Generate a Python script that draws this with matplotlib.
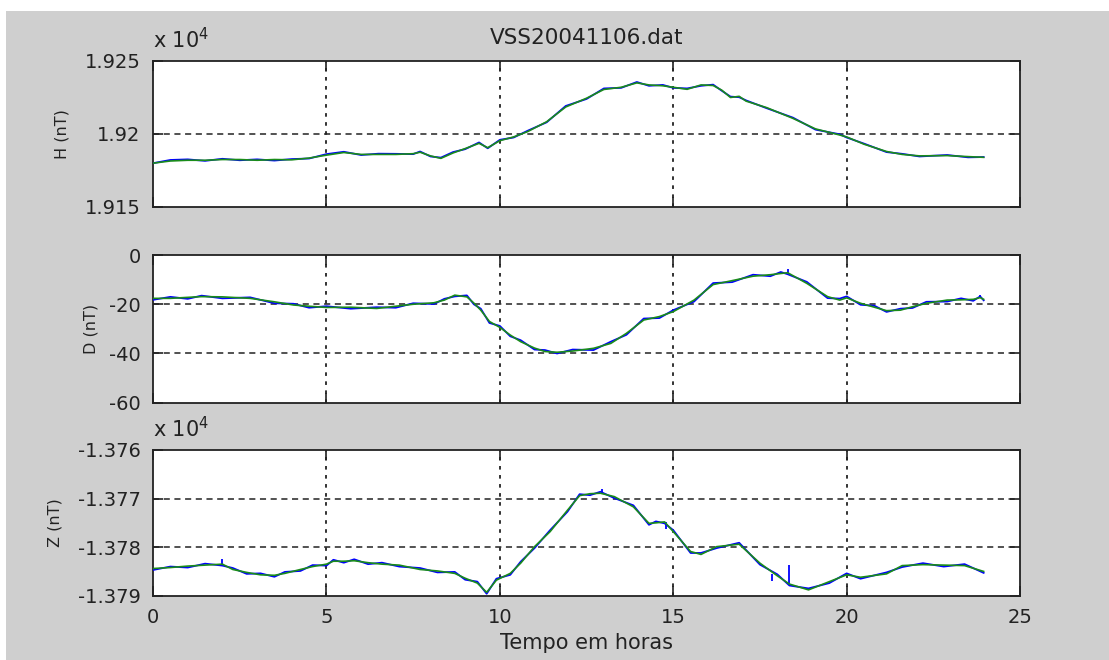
import matplotlib.pyplot as plt
from matplotlib.patches import Rectangle

# H component (nT)
h_t = [0, 0.5, 1.0, 1.5, 2.0, 2.5, 3.0, 3.5, 4.0, 4.5,
       5.0, 5.5, 6.0, 6.5, 7.0, 7.5, 7.7, 8.0, 8.3, 8.65,
       9.0, 9.4, 9.65, 10.0, 10.4, 10.8, 11.35, 11.9, 12.5, 13.0,
       13.5, 13.95, 14.3, 14.7, 15.0, 15.4, 15.8, 16.15, 16.4, 16.65,
       16.9, 17.1, 17.7, 18.45, 19.1, 19.8, 20.0, 20.5, 21.15, 21.6,
       22.1, 22.9, 23.5, 23.95]
h_filt = [19180, 19181.5, 19182, 19182, 19182.5, 19182.5, 19182, 19182.5, 19182.3, 19183.5,
          19185.5, 19187.3, 19186, 19186, 19186, 19186.5, 19187.5, 19185, 19183.3, 19187,
          19190, 19193.6, 19190.6, 19195.4, 19198, 19201.6, 19208.4, 19218.5, 19224.5, 19230.5,
          19232, 19235, 19233.6, 19233, 19232, 19230.6, 19233.6, 19233.2, 19230, 19225,
          19225.8, 19222.5, 19218, 19210.7, 19203.5, 19199.3, 19198, 19193, 19188, 19186,
          19185, 19185.2, 19184.5, 19184]
h_raw = [19180, 19182.2, 19182.6, 19181.6, 19183.0, 19182.0, 19182.6, 19181.8, 19182.8, 19183.2,
         19186.2, 19187.8, 19185.6, 19186.5, 19186.4, 19186.2, 19188.0, 19184.6, 19183.8, 19187.6,
         19189.6, 19194.2, 19190.2, 19196.0, 19197.6, 19202.2, 19208.0, 19219.2, 19224.0, 19231.2,
         19231.6, 19235.6, 19233.0, 19233.6, 19231.6, 19231.2, 19233.0, 19233.8, 19229.6, 19225.6,
         19225.2, 19223.0, 19217.6, 19211.2, 19203.0, 19199.8, 19197.6, 19193.4, 19187.6, 19186.4,
         19184.6, 19185.6, 19184.0, 19184.2]

# D component (nT)
d_t = [0, 0.5, 1.0, 1.4, 2.0, 2.8, 3.5, 4.05, 4.5, 5.0,
       5.7, 6.45, 7.0, 7.5, 8.1, 8.4, 8.7, 9.05, 9.25, 9.45,
       9.7, 10.0, 10.3, 10.6, 11.0, 11.3, 11.65, 12.1, 12.7, 13.2,
       13.65, 14.15, 14.6, 15.0, 15.6, 16.15, 16.7, 17.3, 17.8, 18.1,
       18.3, 18.85, 19.45, 19.8, 20.0, 20.4, 20.8, 21.15, 21.55, 21.9,
       22.3, 22.9, 23.3, 23.65, 23.85, 23.95]
d_filt = [-17.6, -17.6, -17.2, -16.9, -17.0, -17.6, -19.0, -20.3, -20.8, -21.3,
          -21.2, -21.7, -20.8, -20.0, -19.4, -18.3, -16.3, -17.0, -19.5, -22.4,
          -27.0, -29.4, -32.5, -35.2, -37.8, -39.2, -39.5, -39.0, -37.9, -35.9,
          -31.8, -26.4, -25.0, -23.0, -18.3, -12.0, -10.4, -8.6, -8.0, -7.5,
          -7.2, -11.5, -16.9, -18.3, -17.4, -19.6, -21.2, -22.6, -22.4, -21.0,
          -19.6, -18.3, -18.2, -18.0, -17.3, -18.0]
d_raw = [-18.2, -17.0, -17.8, -16.5, -17.6, -17.2, -19.6, -19.8, -21.4, -20.8,
         -21.8, -21.2, -21.4, -19.6, -19.9, -17.8, -16.8, -16.4, -20.0, -21.8,
         -27.6, -28.8, -33.0, -34.6, -38.4, -38.6, -40.0, -38.4, -38.6, -35.2,
         -32.4, -25.8, -25.6, -22.4, -18.9, -11.4, -11.0, -8.0, -8.6, -6.9,
         -7.8, -10.9, -17.5, -17.7, -16.8, -20.2, -20.6, -23.1, -21.8, -21.5,
         -19.0, -18.9, -17.6, -18.6, -16.8, -18.4]

# Z component (nT)
z_t = [0, 0.5, 1.0, 1.5, 2.0, 2.3, 2.7, 3.1, 3.5, 3.8,
       4.25, 4.6, 5.0, 5.2, 5.5, 5.8, 6.2, 6.6, 7.1, 7.7,
       8.2, 8.7, 9.0, 9.35, 9.62, 9.9, 10.3, 10.6, 11.0, 11.45,
       11.95, 12.3, 12.6, 12.9, 13.3, 13.85, 14.3, 14.5, 14.75, 15.0,
       15.5, 15.8, 16.25, 16.9, 17.5, 18.0, 18.35, 18.9, 19.5, 20.0,
       20.4, 21.15, 21.6, 22.2, 22.8, 23.4, 23.95]
z_filt = [-13784.4, -13784.2, -13783.9, -13783.7, -13783.5, -13784.6, -13785.2, -13785.7, -13785.8, -13785.4,
          -13784.6, -13784.0, -13783.5, -13782.9, -13782.9, -13782.8, -13783.2, -13783.5, -13783.7, -13784.6,
          -13784.9, -13785.4, -13786.4, -13787.4, -13789.3, -13786.8, -13785.4, -13783.3, -13779.9, -13776.8,
          -13772.4, -13769.4, -13769.0, -13768.9, -13769.6, -13771.7, -13775.1, -13775.0, -13774.8, -13776.8,
          -13780.9, -13781.5, -13779.9, -13779.4, -13783.3, -13785.9, -13787.6, -13788.8, -13787.1, -13785.7,
          -13786.2, -13785.5, -13783.8, -13783.6, -13783.7, -13783.8, -13785.0]
z_raw = [-13784.7, -13784.0, -13784.2, -13783.4, -13783.8, -13784.3, -13785.5, -13785.4, -13786.1, -13785.1,
         -13784.9, -13783.7, -13783.8, -13782.6, -13783.2, -13782.5, -13783.5, -13783.2, -13784.0, -13784.3,
         -13785.2, -13785.1, -13786.7, -13787.1, -13789.6, -13786.5, -13785.7, -13783.0, -13780.2, -13776.5,
         -13772.7, -13769.1, -13769.3, -13768.6, -13769.9, -13771.4, -13775.4, -13774.7, -13775.1, -13776.5,
         -13781.2, -13781.2, -13780.2, -13779.1, -13783.6, -13785.6, -13787.9, -13788.5, -13787.4, -13785.4,
         -13786.5, -13785.2, -13784.1, -13783.3, -13784.0, -13783.5, -13785.3]

# isolated spikes in the raw record: time, start, end
d_spk_t = [18.3, 23.85]
d_spk_a = [-7.2, -17.3]
d_spk_b = [-5.5, -16.4]
z_spk_t = [2.0, 12.95, 14.8, 17.85, 18.35]
z_spk_a = [-13783.5, -13768.9, -13774.9, -13785.6, -13787.6]
z_spk_b = [-13782.4, -13768.0, -13776.2, -13787.0, -13783.6]

x_ticks = [0, 5, 10, 15, 20, 25]
h_ticks = [19150, 19200, 19250]
h_labels = ['1.915', '1.92', '1.925']
d_ticks = [-60, -40, -20, 0]
z_ticks = [-13790, -13780, -13770, -13760]
z_labels = ['-1.379', '-1.378', '-1.377', '-1.376']

BLUE = '#0000ff'
GREEN = '#1a8c1a'
BG = '#cfcfcf'
INK = '#222222'

plt.rcParams['font.family'] = 'DejaVu Sans'
fig = plt.figure(figsize=(11.09, 6.6), dpi=100, facecolor='white')
fig.patches.append(Rectangle((6 / 1109, 0), 1, 1 - 11 / 660, transform=fig.transFigure,
                             facecolor=BG, edgecolor='none', zorder=-10))

panels = [
    ([0.138, 0.6864, 0.7818, 0.2212], h_t, h_raw, h_filt, 'H (nT)', (19150, 19250), h_ticks, h_labels, -0.096),
    ([0.138, 0.3898, 0.7818, 0.2238], d_t, d_raw, d_filt, 'D (nT)', (-60, 0), d_ticks, ['-60', '-40', '-20', '0'], -0.063),
    ([0.138, 0.0974, 0.7818, 0.2208], z_t, z_raw, z_filt, 'Z (nT)', (-13790, -13760), z_ticks, z_labels, -0.105),
]

axes = []
for pos, t, raw, filt, lab, ylim, yt, ytl, lx in panels:
    ax = fig.add_axes(pos)
    ax.plot(t, raw, color=BLUE, lw=1.3, zorder=3)
    ax.plot(t, filt, color=GREEN, lw=1.2, zorder=4)
    ax.set_xlim(0, 25)
    ax.set_ylim(*ylim)
    ax.set_xticks(x_ticks)
    ax.set_yticks(yt)
    ax.set_yticklabels(ytl)
    for y in yt[1:-1]:
        ax.axhline(y, color=INK, lw=1.1, ls=(0, (4, 3)), zorder=1)
    for x in x_ticks[1:-1]:
        ax.axvline(x, color=INK, lw=1.3, ls=(0, (2, 3)), zorder=1)
    ax.tick_params(direction='in', top=True, right=True, length=7, width=1.2,
                   labelsize=14, pad=9, colors=INK)
    for s in ax.spines.values():
        s.set_linewidth(1.3)
        s.set_color(INK)
    ax.set_ylabel(lab, fontsize=11.5, color=INK)
    ax.yaxis.set_label_coords(lx, 0.5)
    axes.append(ax)

axH, axD, axZ = axes
axH.tick_params(labelbottom=False)
axD.tick_params(labelbottom=False)

axD.vlines(d_spk_t, d_spk_a, d_spk_b, color=BLUE, lw=1.3, zorder=3)
axZ.vlines(z_spk_t, z_spk_a, z_spk_b, color=BLUE, lw=1.3, zorder=3)

# scale factor notes above the H and Z axes
for ax in (axH, axZ):
    ax.annotate(r'x 10$^4$', xy=(0, 1), xycoords='axes fraction', xytext=(0, 6),
                textcoords='offset points', fontsize=15, color=INK, va='bottom')

axH.set_title('VSS20041106.dat', fontsize=15.5, color=INK, pad=12)
axZ.set_xlabel('Tempo em horas', fontsize=15, color=INK, labelpad=4)

fig.savefig('out.png', dpi=100, facecolor='white')
